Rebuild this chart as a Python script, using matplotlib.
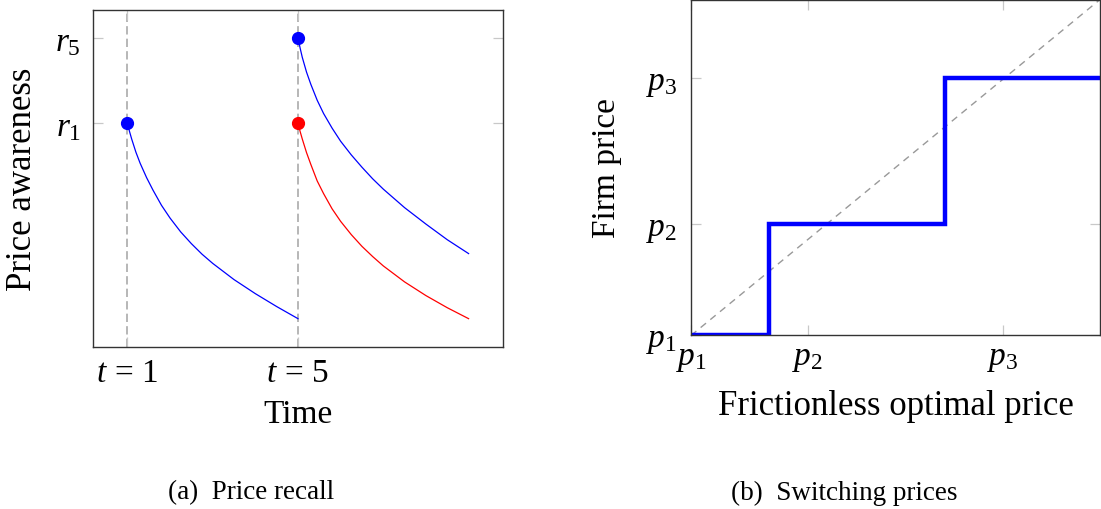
import matplotlib
matplotlib.use("Agg")
import matplotlib.pyplot as plt

plt.rcParams['font.family'] = ['Liberation Serif', 'DejaVu Serif']
plt.rcParams['mathtext.fontset'] = 'custom'
plt.rcParams['mathtext.rm'] = 'Liberation Serif'
plt.rcParams['mathtext.it'] = 'Liberation Serif:italic'

# (a) price recall: awareness
t_first = [1.0, 1.05, 1.1, 1.2, 1.3, 1.45, 1.6, 1.8, 2.0, 2.25, 2.5, 2.75,
           3.0, 3.5, 4.0, 4.5, 5.0]
aware_first = [1.0, 0.958, 0.92, 0.852, 0.795, 0.722, 0.658, 0.58, 0.515,
               0.444, 0.384, 0.33, 0.283, 0.2, 0.128, 0.062, 0.0]

t_second = [5.0, 5.05, 5.1, 5.2, 5.3, 5.45, 5.6, 5.8, 6.0, 6.25, 6.5, 6.75,
            7.0, 7.5, 8.0, 8.5, 9.0]
aware_high = [1.436, 1.385, 1.338, 1.262, 1.2, 1.118, 1.05, 0.975, 0.908,
              0.838, 0.775, 0.716, 0.663, 0.568, 0.484, 0.404, 0.333]
aware_low = [1.0, 0.958, 0.92, 0.85, 0.79, 0.705, 0.64, 0.562, 0.498,
             0.43, 0.37, 0.318, 0.27, 0.188, 0.118, 0.056, 0.0]

t_marks = [1, 5]
t_labels = ['$t\\,=\\,1$', '$t\\,=\\,5$']
r_marks = [1.0, 1.436]
r_labels = ['$r_1$', '$r_5$']

# (b) switching prices
step_x = [0.0, 0.190, 0.190, 0.620, 0.620, 1.0]
step_y = [0.0, 0.0, 0.331, 0.331, 0.766, 0.766]
px_marks = [0.0, 0.285, 0.762]
py_marks = [0.0, 0.331, 0.766]
p_labels = ['$p_1$', '$p_2$', '$p_3$']

fig = plt.figure(figsize=(11.01, 5.10), dpi=100)
ax1 = fig.add_axes([0.0847, 0.3182, 0.3719, 0.6602])
ax2 = fig.add_axes([0.6276, 0.3402, 0.3715, 0.6588])

for ax in (ax1, ax2):
    for s in ax.spines.values():
        s.set_color('#333333')
        s.set_linewidth(1.0)
    ax.tick_params(direction='in', length=7, width=0.9, color='#c8c8c8',
                   top=True, right=True, labelsize=24)

# left panel
for t in t_marks:
    ax1.axvline(t, color='#aaaaaa', lw=1.2, dashes=(5, 2.5), zorder=1)
ax1.plot(t_first, aware_first, color='blue', lw=0.9)
ax1.plot(t_second, aware_high, color='blue', lw=0.9)
ax1.plot(t_second, aware_low, color='red', lw=0.9)
ax1.plot([t_first[0], t_second[0]], [aware_first[0], aware_high[0]], 'o',
         color='blue', ms=8.5, zorder=5)
ax1.plot([t_second[0]], [aware_low[0]], 'o', color='red', ms=8.5, zorder=5)
ax1.set_xlim(0.2, 9.8)
ax1.set_ylim(-0.1436, 1.5796)
ax1.set_xticks(t_marks, t_labels)
ax1.set_yticks(r_marks, r_labels)
ax1.tick_params(axis='x', pad=8)
ax1.tick_params(axis='y', pad=9)
ax1.set_xlabel('Time', fontsize=24, va='center')
ax1.xaxis.set_label_coords(0.5, -0.2)
ax1.set_ylabel('Price awareness', fontsize=25, va='center')
ax1.yaxis.set_label_coords(-0.174, 0.5)

# right panel
ax2.plot([0, 1], [0, 1], color='#999999', lw=1.0, dashes=(5, 4), zorder=1)
ax2.plot(step_x, step_y, color='blue', lw=3.2, solid_joinstyle='miter')
ax2.set_xlim(0, 1)
ax2.set_ylim(0, 1)
ax2.set_xticks(px_marks, p_labels)
ax2.set_yticks(py_marks, p_labels)
ax2.tick_params(axis='x', pad=5)
ax2.tick_params(axis='y', pad=10)
ax2.set_xlabel('Frictionless optimal price', fontsize=25, va='center')
ax2.xaxis.set_label_coords(0.5, -0.209)
ax2.set_ylabel('Firm price', fontsize=24, va='center')
ax2.yaxis.set_label_coords(-0.205, 0.5)

fig.text(251 / 1101, 1 - 493 / 510, '(a)  Price recall', fontsize=19.5,
         ha='center', va='center')
fig.text(844 / 1101, 1 - 493 / 510, '(b)  Switching prices', fontsize=19.5,
         ha='center', va='center')

fig.savefig('out.png', dpi=100)
